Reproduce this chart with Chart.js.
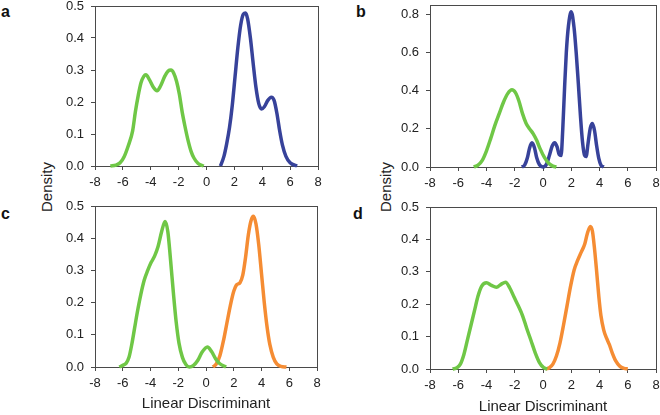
<!DOCTYPE html>
<html>
<head>
<meta charset="utf-8">
<script src="https://cdn.jsdelivr.net/npm/chart.js@4.4.1/dist/chart.umd.min.js"></script>
<style>
    body { margin: 0; width: 660px; height: 415px; background: #fff; position: relative; overflow: hidden; font-family: "Liberation Sans", Arial, sans-serif; }
    canvas { position: absolute; }
    .tag { position: absolute; font-size: 16px; line-height: 16px; font-weight: bold; color: #111; }
    .ylab { position: absolute; width: 70px; height: 18px; line-height: 18px; font-size: 15px; color: #222; text-align: center; white-space: nowrap; transform: rotate(-90deg); }
</style>
</head>
<body>
<div class="tag" style="left:1px; top:4px;">a</div>
<div class="tag" style="left:356px; top:4px;">b</div>
<div class="tag" style="left:1px; top:206px;">c</div>
<div class="tag" style="left:353px; top:206px;">d</div>
<div class="ylab" style="left:12px; top:178px;">Density</div>
<div class="ylab" style="left:351px; top:178px;">Density</div>

<canvas id="chartA"></canvas>
<canvas id="chartB"></canvas>
<canvas id="chartC"></canvas>
<canvas id="chartD"></canvas>

<script>
// panel a
const aGreenX = [-6.9, -6.5, -6.2, -5.9, -5.6, -5.3, -5.1, -4.9, -4.7, -4.5, -4.35, -4.1, -3.8, -3.55, -3.3, -3.0, -2.75, -2.55, -2.35, -2.15, -1.95, -1.75, -1.55, -1.35, -1.1, -0.9, -0.6, -0.2];
const aGreenY = [0, 0.003, 0.01, 0.03, 0.065, 0.11, 0.17, 0.22, 0.26, 0.28, 0.285, 0.27, 0.245, 0.235, 0.25, 0.28, 0.297, 0.3, 0.29, 0.265, 0.225, 0.17, 0.125, 0.085, 0.045, 0.025, 0.008, 0];
const aBlueX = [1.0, 1.25, 1.45, 1.65, 1.85, 2.05, 2.25, 2.45, 2.65, 2.8, 2.95, 3.15, 3.35, 3.55, 3.75, 3.95, 4.15, 4.4, 4.65, 4.85, 5.05, 5.25, 5.45, 5.7, 6.0, 6.5];
const aBlueY = [0, 0.03, 0.07, 0.12, 0.19, 0.28, 0.37, 0.44, 0.475, 0.478, 0.46, 0.4, 0.32, 0.245, 0.195, 0.178, 0.185, 0.205, 0.215, 0.205, 0.165, 0.11, 0.065, 0.03, 0.01, 0];

// panel b
const bGreenX = [-4.9, -4.6, -4.3, -4.0, -3.7, -3.4, -3.1, -2.8, -2.5, -2.2, -1.95, -1.7, -1.45, -1.2, -0.95, -0.7, -0.45, -0.2, 0.1, 0.4, 0.7, 0.95];
const bGreenY = [0, 0.01, 0.035, 0.085, 0.15, 0.22, 0.28, 0.34, 0.385, 0.405, 0.39, 0.345, 0.28, 0.23, 0.2, 0.175, 0.14, 0.095, 0.05, 0.02, 0.005, 0];
const bBlueX = [-1.5, -1.3, -1.1, -0.95, -0.78, -0.6, -0.45, -0.25, 0.0, 0.25, 0.45, 0.65, 0.83, 1.0, 1.15, 1.28, 1.4, 1.53, 1.65, 1.8, 2.0, 2.2, 2.35, 2.5, 2.65, 2.8, 2.95, 3.05, 3.2, 3.35, 3.5, 3.65, 3.8, 3.95, 4.1, 4.3];
const bBlueY = [0, 0.01, 0.05, 0.1, 0.127, 0.1, 0.05, 0.012, 0, 0.015, 0.06, 0.11, 0.127, 0.105, 0.065, 0.06, 0.2, 0.42, 0.6, 0.74, 0.815, 0.73, 0.6, 0.44, 0.27, 0.13, 0.06, 0.055, 0.13, 0.205, 0.228, 0.19, 0.11, 0.045, 0.01, 0];

// panel c
const cGreenX = [-6.25, -6.0, -5.75, -5.55, -5.35, -5.15, -4.95, -4.7, -4.45, -4.2, -3.95, -3.7, -3.45, -3.2, -2.95, -2.75, -2.55, -2.35, -2.15, -1.95, -1.7, -1.45, -1.2, -0.9, -0.6, -0.3, 0.1, 0.4, 0.7, 1.0, 1.45];
const cGreenY = [0, 0.005, 0.012, 0.03, 0.07, 0.12, 0.17, 0.225, 0.27, 0.3, 0.325, 0.345, 0.375, 0.42, 0.452, 0.42, 0.33, 0.23, 0.14, 0.075, 0.03, 0.008, 0, 0.005, 0.02, 0.045, 0.062, 0.048, 0.025, 0.01, 0];
const cOrangeX = [0.5, 0.75, 1.0, 1.25, 1.5, 1.75, 2.0, 2.2, 2.45, 2.65, 2.85, 3.05, 3.25, 3.42, 3.6, 3.8, 4.0, 4.2, 4.4, 4.6, 4.85, 5.1, 5.4, 5.8];
const cOrangeY = [0, 0.01, 0.035, 0.08, 0.135, 0.19, 0.235, 0.255, 0.262, 0.285, 0.34, 0.41, 0.455, 0.468, 0.445, 0.38, 0.29, 0.2, 0.125, 0.07, 0.03, 0.01, 0.002, 0];

// panel d
const dGreenX = [-6.4, -6.1, -5.85, -5.6, -5.35, -5.1, -4.85, -4.6, -4.35, -4.0, -3.65, -3.3, -2.95, -2.65, -2.35, -2.05, -1.75, -1.45, -1.15, -0.85, -0.55, -0.25, 0.05, 0.3];
const dGreenY = [0, 0.004, 0.015, 0.045, 0.09, 0.135, 0.18, 0.225, 0.255, 0.266, 0.258, 0.252, 0.262, 0.268, 0.25, 0.222, 0.195, 0.165, 0.125, 0.088, 0.05, 0.02, 0.004, 0];
const dOrangeX = [0.2, 0.45, 0.7, 0.95, 1.2, 1.45, 1.7, 1.95, 2.2, 2.45, 2.7, 2.95, 3.15, 3.35, 3.5, 3.65, 3.8, 3.95, 4.1, 4.3, 4.5, 4.7, 4.9, 5.15, 5.45, 5.75, 6.0];
const dOrangeY = [0, 0.004, 0.015, 0.04, 0.08, 0.135, 0.195, 0.255, 0.305, 0.335, 0.36, 0.385, 0.42, 0.44, 0.425, 0.37, 0.3, 0.225, 0.165, 0.12, 0.095, 0.075, 0.05, 0.025, 0.008, 0.002, 0];

const GREEN = '#6fc746';
const BLUE = '#37429a';
const ORANGE = '#f58c33';
const AXIS = '#4a4a4a';
const TEXT = '#222';
const FONT = '"Liberation Sans", Arial, sans-serif';

const PAD_L = 60, PAD_T = 15, PAD_R = 15;

// draws the box round the plot area
const framePlugin = {
    id: 'frame',
    beforeDatasetsDraw(chart) {
        const { ctx, chartArea: a } = chart;
        ctx.save();
        ctx.strokeStyle = AXIS;
        ctx.lineWidth = 1;
        ctx.strokeRect(Math.round(a.left) + 0.5, Math.round(a.top) + 0.5, Math.round(a.right - a.left), Math.round(a.bottom - a.top));
        ctx.restore();
    }
};

function toPoints(xs, ys) {
    return xs.map((x, i) => ({ x: x, y: ys[i] }));
}

function curve(xs, ys, color) {
    return {
        data: toPoints(xs, ys),
        borderColor: color,
        borderWidth: 3.5,
        pointRadius: 0,
        fill: false,
        cubicInterpolationMode: 'monotone',
        clip: false,
    };
}

// box = chart area in page pixels, xh = height kept for the x axis
function makePanel(id, box, datasets, yMax, yStep, xTitle, xh) {
    const canvas = document.getElementById(id);
    const w = box.r - box.l + PAD_L + PAD_R;
    const h = box.b - box.t + PAD_T + xh;
    canvas.width = w;
    canvas.height = h;
    canvas.style.left = (box.l - PAD_L) + 'px';
    canvas.style.top = (box.t - PAD_T) + 'px';

    return new Chart(canvas.getContext('2d'), {
        type: 'line',
        data: { datasets: datasets },
        options: {
            responsive: false,
            animation: false,
            events: [],
            layout: { padding: { left: 0, top: PAD_T, right: PAD_R, bottom: 0 } },
            plugins: { legend: { display: false }, tooltip: { enabled: false } },
            scales: {
                x: {
                    type: 'linear',
                    min: -8,
                    max: 8,
                    border: { display: false },
                    grid: { display: true, drawOnChartArea: false, drawTicks: true, tickLength: 4, color: AXIS },
                    ticks: { stepSize: 2, padding: 5, color: TEXT, font: { family: FONT, size: 13 }, maxRotation: 0 },
                    title: { display: !!xTitle, text: xTitle || '', color: TEXT, font: { family: FONT, size: 15 }, padding: { top: 0, bottom: 0 } },
                    afterFit: (scale) => { scale.height = xh; }
                },
                y: {
                    min: 0,
                    max: yMax,
                    border: { display: false },
                    grid: { display: true, drawOnChartArea: false, drawTicks: true, tickLength: 4, color: AXIS },
                    ticks: {
                        stepSize: yStep,
                        includeBounds: false,
                        padding: 7,
                        color: TEXT,
                        font: { family: FONT, size: 13 },
                        callback: (v) => v.toFixed(1)
                    },
                    afterFit: (scale) => { scale.width = PAD_L; }
                }
            }
        },
        plugins: [framePlugin]
    });
}

makePanel('chartA', { l: 95, t: 6, r: 318, b: 166 },
    [curve(aGreenX, aGreenY, GREEN), curve(aBlueX, aBlueY, BLUE)], 0.5, 0.1, null, 46);

makePanel('chartB', { l: 430, t: 5, r: 656, b: 167 },
    [curve(bGreenX, bGreenY, GREEN), curve(bBlueX, bBlueY, BLUE)], 0.85, 0.2, null, 46);

makePanel('chartC', { l: 95, t: 206, r: 317, b: 367 },
    [curve(cGreenX, cGreenY, GREEN), curve(cOrangeX, cOrangeY, ORANGE)], 0.5, 0.1, 'Linear Discriminant', 46);

makePanel('chartD', { l: 430, t: 207, r: 656, b: 369 },
    [curve(dGreenX, dGreenY, GREEN), curve(dOrangeX, dOrangeY, ORANGE)], 0.5, 0.1, 'Linear Discriminant', 47);
</script>
</body>
</html>
